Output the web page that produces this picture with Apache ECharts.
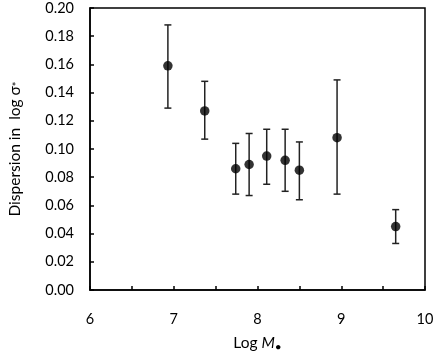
<!DOCTYPE html>
<html><head><meta charset="utf-8">
<script src="https://cdn.jsdelivr.net/npm/echarts@6/dist/echarts.min.js"></script>
<style>html,body{margin:0;padding:0;background:#fff}#c{width:436px;height:354px}</style>
</head><body><div id="c"></div>
<script>
const logM = [6.93, 7.37, 7.74, 7.90, 8.11, 8.33, 8.50, 8.95, 9.65];
const dispersion = [0.159, 0.127, 0.086, 0.089, 0.095, 0.092, 0.085, 0.108, 0.045];
const errHigh = [0.188, 0.148, 0.104, 0.111, 0.114, 0.114, 0.105, 0.149, 0.057];
const errLow = [0.129, 0.107, 0.068, 0.067, 0.075, 0.070, 0.064, 0.068, 0.033];

const FONT = 'Lato';
const chart = echarts.init(document.getElementById('c'), null, {renderer: 'canvas'});
const pts = logM.map((x, i) => [x, dispersion[i]]);
const bars = logM.map((x, i) => [x, errLow[i], errHigh[i]]);
chart.setOption({
  animation: false,
  backgroundColor: '#fff',
  grid: {left: 90, right: 11, top: 8, bottom: 64, show: true, borderColor: '#000', borderWidth: 1.5,
    containLabel: false, outerBoundsMode: 'none'},
  xAxis: {
    type: 'value', min: 6, max: 10, interval: 0.5,
    axisLine: {lineStyle: {color: '#000', width: 1.5}},
    axisTick: {inside: true, length: 4, lineStyle: {color: '#000', width: 1.5}},
    splitLine: {show: false},
    axisLabel: {color: '#000', fontFamily: FONT, fontSize: 14.5, margin: 22,
      formatter: v => (Math.abs(v - Math.round(v)) < 1e-9 ? String(Math.round(v)) : '')},
    name: '{a|Log }{b|M}{c|•}', nameLocation: 'middle', nameGap: 43,
    nameTextStyle: {rich: {
      a: {fontFamily: FONT, fontSize: 15.5, color: '#000'},
      b: {fontFamily: FONT, fontSize: 15.5, color: '#000', fontStyle: 'italic'},
      c: {fontFamily: FONT, fontSize: 12, color: '#000', padding: [8, 0, 0, 0]}
    }}
  },
  yAxis: {
    type: 'value', min: 0, max: 0.2, interval: 0.02,
    axisLine: {lineStyle: {color: '#000', width: 1.5}},
    axisTick: {inside: true, length: 4, lineStyle: {color: '#000', width: 1.5}},
    splitLine: {show: false},
    axisLabel: {color: '#000', fontFamily: FONT, fontSize: 14.5, margin: 16, formatter: v => v.toFixed(2)},
    name: '{a|Dispersion in  log σ}{c|*}', nameLocation: 'middle', nameGap: 67,
    nameTextStyle: {rich: {
      a: {fontFamily: FONT, fontSize: 15.5, color: '#000'},
      c: {fontFamily: FONT, fontSize: 11, color: '#000', padding: [6, 0, 0, 0]}
    }}
  },
  series: [
    {
      type: 'custom', data: bars, z: 2,
      encode: {x: 0, y: [1, 2]},
      renderItem: (params, api) => {
        const lo = api.coord([api.value(0), api.value(1)]);
        const hi = api.coord([api.value(0), api.value(2)]);
        const w = 3.5;
        const st = {stroke: '#222', lineWidth: 1.5};
        return {type: 'group', children: [
          {type: 'line', shape: {x1: lo[0], y1: lo[1], x2: hi[0], y2: hi[1]}, style: st},
          {type: 'line', shape: {x1: lo[0] - w, y1: lo[1], x2: lo[0] + w, y2: lo[1]}, style: st},
          {type: 'line', shape: {x1: hi[0] - w, y1: hi[1], x2: hi[0] + w, y2: hi[1]}, style: st}
        ]};
      }
    },
    {
      type: 'scatter', data: pts, symbol: 'circle', symbolSize: 9.5, z: 3,
      itemStyle: {color: '#000'}
    }
  ]
});
</script></body></html>
